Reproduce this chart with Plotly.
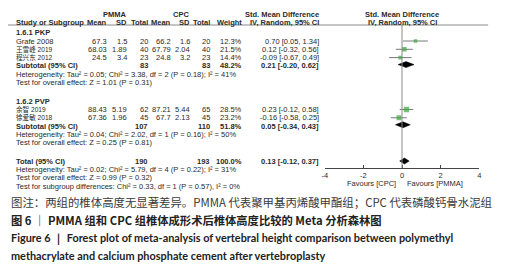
import plotly.graph_objects as go

W, H = 505, 265

# ---------------- data ----------------
studies = ["Grafe 2008", "王雪峰 2019", "程兴东 2012", "余智 2019", "徐爱敏 2018"]
pmma_mean = [67.3, 68.03, 24.5, 88.43, 67.36]
pmma_sd = [1.5, 1.89, 3.4, 5.19, 1.96]
pmma_n = [20, 40, 23, 62, 45]
cpc_mean = [66.2, 67.79, 24.8, 87.21, 67.7]
cpc_sd = [1.6, 2.04, 3.2, 5.44, 2.13]
cpc_n = [20, 40, 23, 65, 45]
weight = [12.3, 21.5, 14.4, 28.5, 23.2]
smd = [0.70, 0.12, -0.09, 0.23, -0.16]
ci_lo = [0.05, -0.32, -0.67, -0.12, -0.58]
ci_hi = [1.34, 0.56, 0.49, 0.58, 0.25]

groups = ["1.6.1 PKP", "1.6.2 PVP"]
sub_pmma_n = [83, 107]
sub_cpc_n = [83, 110]
sub_weight = [48.2, 51.8]
sub_smd = [0.21, 0.05]
sub_lo = [-0.20, -0.34]
sub_hi = [0.62, 0.43]
sub_tau2 = [0.05, 0.04]
sub_chi2 = [3.38, 2.02]
sub_df = [2, 1]
sub_p = [0.18, 0.16]
sub_i2 = [41, 50]
sub_z = [1.01, 0.25]
sub_pz = [0.31, 0.81]

tot_pmma_n, tot_cpc_n, tot_weight = 190, 193, 100.0
tot_smd, tot_lo, tot_hi = 0.13, -0.12, 0.37
tot_tau2, tot_chi2, tot_df, tot_p, tot_i2 = 0.02, 5.79, 4, 0.22, 31
tot_z, tot_pz = 0.99, 0.32
sg_chi2, sg_df, sg_p, sg_i2 = 0.33, 1, 0.57, 0

x_ticks = [-4, -2, 0, 2, 4]
fav_left, fav_right = "Favours [CPC]", "Favours [PMMA]"

caption1 = "图注：两组的椎体高度无显著差异。PMMA 代表聚甲基丙烯酸甲酯组；CPC 代表磷酸钙骨水泥组"
caption2 = "图 6 ｜ PMMA 组和 CPC 组椎体成形术后椎体高度比较的 Meta 分析森林图"
caption3 = "Figure 6 ｜ Forest plot of meta-analysis of vertebral height comparison between polymethyl"
caption4 = "methacrylate and calcium phosphate cement after vertebroplasty"

# ---------------- layout helpers ----------------
def ypix(r):
    return 32.7 + 8.3 * r

def px(x):
    return x / W

FONT = "Liberation Sans, Arial, Noto Sans CJK SC"
FS = 7.5
TXT = "#2a2a2a"

study_rows = [1, 2, 3, 9.25, 10.25]
group_rows = [0, 8.25]
sub_rows = [4, 11.25]
het_rows = [5, 12.25]
z_rows = [6, 13.25]
tot_row, tot_het_row, tot_z_row, sg_row = 15.5, 16.5, 17.5, 18.5

COL = dict(lbl=12, m1=106, s1=126, n1=147, m2=171, s2=190, n2=210, w=242, ci=320)

fig = go.Figure()
ann = []

def T(x, y, text, anchor="left", bold=False, size=FS, color=TXT, family=FONT):
    if bold:
        text = "<b>" + text + "</b>"
    ann.append(dict(x=px(x), y=y, xref="paper", yref="y", text=text, showarrow=False,
                    xanchor=anchor, yanchor="middle", borderpad=0,
                    font=dict(family=family, size=size, color=color)))

def g(v):
    return f"{v:g}"

def ci(e, lo, hi):
    return f"{e:.2f} [{lo:.2f}, {hi:.2f}]"

# headers
T(113, 14, "PMMA", "center", True)
T(180, 14, "CPC", "center", True)
T(282, 14, "Std. Mean Difference", "center", True)
T(403, 14, "Std. Mean Difference", "center", True)
hy = 22.5
T(COL["lbl"], hy, "Study or Subgroup", "left", True)
for k, t in [("m1", "Mean"), ("s1", "SD"), ("n1", "Total"), ("m2", "Mean"), ("s2", "SD"),
             ("n2", "Total"), ("w", "Weight"), ("ci", "IV, Random, 95% CI")]:
    T(COL[k], hy, t, "right", True)
T(403, hy, "IV, Random, 95% CI", "center", True)

# study rows
for i, s in enumerate(studies):
    y = ypix(study_rows[i])
    name_size = FS if s.isascii() else 6.6
    T(COL["lbl"], y, s, size=name_size)
    T(COL["m1"], y, g(pmma_mean[i]), "right")
    T(COL["s1"], y, g(pmma_sd[i]), "right")
    T(COL["n1"], y, g(pmma_n[i]), "right")
    T(COL["m2"], y, g(cpc_mean[i]), "right")
    T(COL["s2"], y, g(cpc_sd[i]), "right")
    T(COL["n2"], y, g(cpc_n[i]), "right")
    T(COL["w"], y, f"{weight[i]:.1f}%", "right")
    T(COL["ci"], y, ci(smd[i], ci_lo[i], ci_hi[i]), "right")

for j, gname in enumerate(groups):
    T(COL["lbl"], ypix(group_rows[j]), gname, "left", True)
    y = ypix(sub_rows[j])
    T(COL["lbl"], y, "Subtotal (95% CI)", "left", True)
    T(COL["n1"], y, g(sub_pmma_n[j]), "right", True)
    T(COL["n2"], y, g(sub_cpc_n[j]), "right", True)
    T(COL["w"], y, f"{sub_weight[j]:.1f}%", "right", True)
    T(COL["ci"], y, ci(sub_smd[j], sub_lo[j], sub_hi[j]), "right", True)
    T(COL["lbl"], ypix(het_rows[j]),
      f"Heterogeneity: Tau² = {sub_tau2[j]:.2f}; Chi² = {sub_chi2[j]:.2f}, df = {sub_df[j]} "
      f"(P = {sub_p[j]:.2f}); I² = {sub_i2[j]}%")
    T(COL["lbl"], ypix(z_rows[j]),
      f"Test for overall effect: Z = {sub_z[j]:.2f} (P = {sub_pz[j]:.2f})")

y = ypix(tot_row)
T(COL["lbl"], y, "Total (95% CI)", "left", True)
T(COL["n1"], y, g(tot_pmma_n), "right", True)
T(COL["n2"], y, g(tot_cpc_n), "right", True)
T(COL["w"], y, f"{tot_weight:.1f}%", "right", True)
T(COL["ci"], y, ci(tot_smd, tot_lo, tot_hi), "right", True)
T(COL["lbl"], ypix(tot_het_row),
  f"Heterogeneity: Tau² = {tot_tau2:.2f}; Chi² = {tot_chi2:.2f}, df = {tot_df} "
  f"(P = {tot_p:.2f}); I² = {tot_i2}%")
T(COL["lbl"], ypix(tot_z_row), f"Test for overall effect: Z = {tot_z:.2f} (P = {tot_pz:.2f})")
T(COL["lbl"], ypix(sg_row),
  f"Test for subgroup differences: Chi² = {sg_chi2:.2f}, df = {sg_df} (P = {sg_p:.2f}), I² = {sg_i2}%")

# favours labels
T(398, 183, fav_left, "right")
T(407, 183, fav_right, "left")

# captions
CJK = "Noto Sans CJK SC"
T(7, 201.5, caption1, "left", False, 11.4, "#3a3a3a", CJK)
T(7, 219.5, caption2, "left", True, 11.3, "#222222", CJK)
T(7, 237.5, caption3, "left", True, 10.9, "#222222", "Lato, Noto Sans")
T(7, 255.5, caption4, "left", True, 10.9, "#222222", "Lato, Noto Sans")

# ---------------- marks ----------------
fig.add_trace(go.Scatter(
    x=smd, y=[ypix(r) for r in study_rows], mode="markers",
    marker=dict(symbol="square", color="#3aa83a",
                size=[10 * (w / 100) ** 0.5 for w in weight], line=dict(width=0)),
    error_x=dict(type="data", symmetric=False,
                 array=[h - e for h, e in zip(ci_hi, smd)],
                 arrayminus=[e - l for e, l in zip(smd, ci_lo)],
                 color="#555555", thickness=0.8, width=0),
    hoverinfo="skip", showlegend=False))

HD = 3.0
def diamond(e, lo, hi, yc):
    fig.add_trace(go.Scatter(
        x=[lo, e, hi, e, lo], y=[yc, yc - HD, yc, yc + HD, yc], mode="lines",
        fill="toself", fillcolor="#000000", line=dict(color="#000000", width=0.5),
        hoverinfo="skip", showlegend=False))

for j in range(len(groups)):
    diamond(sub_smd[j], sub_lo[j], sub_hi[j], ypix(sub_rows[j]) - 1.3)
diamond(tot_smd, tot_lo, tot_hi, ypix(tot_row) - 0.3)

shapes = [
    dict(type="line", xref="paper", yref="y", x0=px(5), x1=px(490), y0=25, y1=25,
         line=dict(color="#8a8a8a", width=1)),
    dict(type="line", xref="x", yref="y", x0=0, x1=0, y0=25, y1=168,
         line=dict(color="#8a8a8a", width=1)),
]

fig.update_layout(
    width=W, height=H, margin=dict(l=0, r=0, t=0, b=0),
    paper_bgcolor="white", plot_bgcolor="rgba(0,0,0,0)",
    annotations=ann, shapes=shapes,
    xaxis=dict(domain=[px(325), px(481)], range=[-4, 4], anchor="free",
               position=1 - 168 / H, tickvals=x_ticks, ticktext=[str(t) for t in x_ticks],
               ticks="inside", ticklen=3, tickcolor="#444444", tickwidth=1,
               showline=True, linecolor="#444444", linewidth=1, showgrid=False,
               zeroline=False, tickfont=dict(family=FONT, size=FS, color=TXT),
               fixedrange=True),
    yaxis=dict(domain=[0, 1], range=[H, 0], visible=False, showgrid=False,
               zeroline=False, fixedrange=True),
)

fig.write_html("out.html", config={"displayModeBar": False},
               post_script="document.body.style.margin='0';document.body.style.padding='0';")
